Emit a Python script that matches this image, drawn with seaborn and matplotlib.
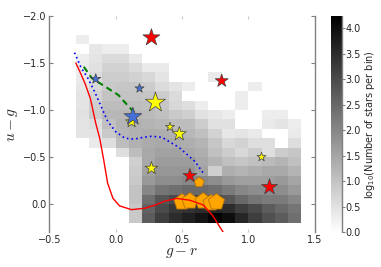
import numpy as np
import pandas as pd
import matplotlib
matplotlib.use("Agg")
import matplotlib.pyplot as plt
import seaborn as sns

# bin centres of the 2D histogram (0.1 wide bins)
gr_centers = [-0.25, -0.15, -0.05, 0.05, 0.15, 0.25, 0.35, 0.45, 0.55,
              0.65, 0.75, 0.85, 0.95, 1.05, 1.15, 1.25, 1.35]
ug_centers = [-1.75, -1.65, -1.55, -1.45, -1.35, -1.25, -1.15, -1.05, -0.95, -0.85,
              -0.75, -0.65, -0.55, -0.45, -0.35, -0.25, -0.15, -0.05, 0.05, 0.15]

# log10(number of stars per bin), one row per u-g bin, 0 = empty
log_counts = [
    [0.3, 0, 0, 0, 0, 0, 0, 0, 0, 0, 0, 0, 0, 0, 0, 0, 0],
    [0, 0.4, 0.3, 0.3, 0, 0, 0, 0, 0, 0, 0, 0, 0, 0, 0, 0, 0],
    [0.3, 0.45, 0.6, 0.6, 0.35, 0, 0, 0, 0, 0, 0, 0, 0, 0, 0, 0, 0],
    [0.35, 0.5, 0.75, 0.75, 0.6, 0.35, 0.35, 0, 0, 0, 0, 0, 0, 0, 0, 0, 0],
    [0.35, 0.6, 0.85, 0.85, 0.75, 0.65, 0.45, 0, 0, 0, 0.35, 0, 0, 0, 0, 0, 0],
    [0.4, 0.65, 0.9, 0.95, 0.95, 0.85, 0.6, 0.45, 0.3, 0, 0, 0, 0, 0.3, 0, 0, 0],
    [0.45, 0.75, 1.0, 1.0, 1.0, 0.95, 0.85, 0.6, 0, 0, 0, 0, 0.3, 0, 0, 0, 0],
    [0.45, 0.8, 1.1, 1.1, 1.1, 1.05, 0.95, 0.65, 0.55, 0.3, 0, 0, 0.3, 0, 0, 0, 0],
    [0.5, 0.85, 1.2, 1.2, 1.2, 1.15, 1.05, 0.9, 0.8, 0.5, 0.4, 0.3, 0, 0, 0.3, 0.3, 0],
    [0.45, 0.55, 1.05, 1.25, 1.3, 1.25, 1.2, 1.1, 1.1, 0.85, 0.5, 0.5, 0, 0, 0.35, 0.45, 0.3],
    [0.45, 0.45, 0.9, 1.2, 1.3, 1.35, 1.35, 1.3, 1.2, 1.05, 0.75, 0.4, 0.45, 0.35, 0, 0, 0.35],
    [0, 0.35, 0.55, 1.1, 1.3, 1.4, 1.45, 1.4, 1.35, 1.25, 0.95, 0.65, 0.75, 0.55, 0.55, 0, 0.55],
    [0, 0, 0, 0.55, 1.1, 1.45, 1.55, 1.55, 1.45, 1.35, 1.05, 0.85, 0.65, 0.85, 0.55, 0.85, 0.95],
    [0, 0, 0, 0, 0.8, 1.45, 1.65, 1.65, 1.65, 1.45, 1.25, 1.05, 0.95, 1.05, 1.15, 1.25, 1.05],
    [0, 0, 0, 0, 0.85, 1.55, 1.75, 1.75, 1.75, 1.55, 0.8, 1.35, 1.25, 1.35, 1.45, 1.45, 1.25],
    [0, 0, 0, 0, 0.9, 1.7, 1.9, 1.9, 2.0, 2.0, 1.9, 1.7, 1.6, 1.6, 1.6, 1.7, 1.5],
    [0, 0, 0, 0, 1.0, 2.0, 2.3, 2.4, 2.5, 2.5, 2.4, 2.2, 2.0, 1.9, 1.9, 1.9, 1.7],
    [0, 0, 0, 0, 1.0, 2.4, 2.8, 3.0, 3.1, 3.1, 3.0, 2.8, 2.5, 2.3, 2.2, 2.2, 2.0],
    [0, 0, 0, 0, 0.9, 2.6, 3.0, 3.3, 3.4, 3.5, 3.6, 3.5, 3.2, 3.0, 2.7, 2.5, 2.3],
    [0, 0, 0, 0, 0.9, 2.7, 3.2, 3.5, 3.7, 3.9, 4.24, 4.0, 3.6, 3.2, 2.9, 2.7, 2.4],
]

# tracks
red_gr = [-0.30, -0.27, -0.23, -0.19, -0.15, -0.12, -0.09, -0.06, -0.02, 0.03, 0.12,
          0.22, 0.30, 0.37, 0.46, 0.56, 0.66, 0.73, 0.82]
red_ug = [-1.50, -1.41, -1.28, -1.12, -0.86, -0.70, -0.47, -0.22, -0.06, 0.02, 0.06,
          0.045, 0.01, -0.03, -0.06, -0.04, 0.01, 0.12, 0.32]
green_gr = [-0.24, -0.18, -0.08, 0.02, 0.09, 0.15]
green_ug = [-1.46, -1.34, -1.25, -1.16, -1.05, -0.96]
blue_gr = [-0.31, -0.26, -0.21, -0.16, -0.11, -0.06, 0.00, 0.07, 0.14, 0.21, 0.27,
           0.35, 0.42, 0.48, 0.52, 0.60, 0.66]
blue_ug = [-1.61, -1.45, -1.34, -1.20, -1.04, -0.88, -0.77, -0.70, -0.69, -0.71, -0.72,
           -0.71, -0.65, -0.60, -0.55, -0.45, -0.33]

# individual objects
red_star_gr = [0.27, 0.80, 0.56, 1.16]
red_star_ug = [-1.77, -1.31, -0.30, -0.18]
red_star_s = [165, 97, 112, 147]
yellow_star_gr = [0.12, 0.30, 0.41, 0.48, 0.27, 1.10]
yellow_star_ug = [-0.875, -1.08, -0.82, -0.745, -0.38, -0.50]
yellow_star_s = [82, 230, 46, 112, 92, 46]
blue_star_gr = [-0.15, 0.18, 0.13]
blue_star_ug = [-1.33, -1.23, -0.93]
blue_star_s = [57, 46, 180]
pent_gr = [0.50, 0.56, 0.66, 0.72, 0.76, 0.63]
pent_ug = [-0.02, -0.03, -0.03, -0.01, -0.02, -0.23]
pent_s = [150, 150, 150, 150, 150, 57]

rows = []
for j, ug in enumerate(ug_centers):
    for i, gr in enumerate(gr_centers):
        if log_counts[j][i] > 0:
            rows.append({"gr": gr, "ug": ug, "logn": log_counts[j][i]})
df = pd.DataFrame(rows)

sns.set_style("white")
plt.rcParams["font.family"] = ["DejaVu Sans"]

fig = plt.figure(figsize=(3.81, 2.67), dpi=100)
ax = fig.add_axes([0.1294, 0.1303, 0.6963, 0.8098])
cax = fig.add_axes([0.8688, 0.1303, 0.0276, 0.8098])

sns.histplot(data=df, x="gr", y="ug", weights="logn", bins=(17, 20),
             binrange=((-0.3, 1.4), (-1.8, 0.2)), cmap="gray_r",
             vmin=0, vmax=4.24, cbar=True, cbar_ax=cax, ax=ax)

ax.scatter(pent_gr, pent_ug, s=pent_s, marker="p", color="#FFA500",
           edgecolors="#b8740a", linewidths=0.6, zorder=3)
ax.plot(red_gr, red_ug, color="red", lw=1.0, zorder=4)
ax.plot(green_gr, green_ug, color="green", lw=1.5, ls=(0, (3, 2)), zorder=4)
ax.plot(blue_gr, blue_ug, color="blue", lw=1.2, ls=(0, (1, 1.8)), zorder=4)
ax.scatter(yellow_star_gr, yellow_star_ug, s=yellow_star_s, marker="*", color="yellow",
           edgecolors="#404040", linewidths=0.5, zorder=5)
ax.scatter(red_star_gr, red_star_ug, s=red_star_s, marker="*", color="red",
           edgecolors="#404040", linewidths=0.5, zorder=5)
ax.scatter(blue_star_gr, blue_star_ug, s=blue_star_s, marker="*", color="#4470d8",
           edgecolors="#404040", linewidths=0.5, zorder=6)

ax.set_xlim(-0.5, 1.5)
ax.set_ylim(0.3, -2.0)
ax.set_xticks([-0.5, 0.0, 0.5, 1.0, 1.5])
ax.set_yticks([-2.0, -1.5, -1.0, -0.5, 0.0])
ax.set_xlabel("$g\u2212r$", fontsize=11, labelpad=0, math_fontfamily="cm")
ax.set_ylabel("$u\u2212g$", fontsize=11, labelpad=2, math_fontfamily="cm")

for side in ["top", "bottom"]:
    ax.spines[side].set_visible(False)
for side in ["left", "right"]:
    ax.spines[side].set_visible(True)
    ax.spines[side].set_color("#808080")
    ax.spines[side].set_linewidth(1.0)
ax.tick_params(axis="y", left=True, right=True, direction="in", length=3,
               color="#808080", labelsize=7, pad=2)
ax.tick_params(axis="x", top=True, bottom=True, direction="in", length=2,
               color="#c8c8c8", labelsize=7, pad=2)

cbar = ax.collections[0].colorbar
cbar.outline.set_visible(False)
cbar.set_ticks([0.0, 0.5, 1.0, 1.5, 2.0, 2.5, 3.0, 3.5, 4.0])
cbar.ax.set_yticklabels([f"{t:.1f}" for t in cbar.get_ticks()])
cbar.ax.tick_params(labelsize=7, length=2, color="#808080", pad=1)
cax.plot([1, 1], [0, 1], transform=cax.transAxes, color="#808080", lw=1.0, clip_on=False)
cbar.set_label("log$_{10}$(Number of stars per bin)", fontsize=7, labelpad=1)

fig.savefig("out.png", dpi=100)
